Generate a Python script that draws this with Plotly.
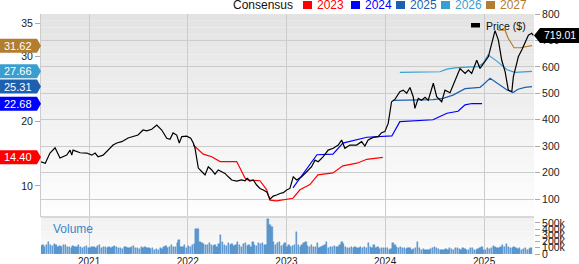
import numpy as np
import pandas as pd
import plotly.graph_objects as go

# ---------------- data (dates as fractional years) ----------------
price_year = [2020.514, 2020.557, 2020.605, 2020.656, 2020.706, 2020.774, 2020.808, 2020.825, 2020.838, 2020.909,
              2020.977, 2021.027, 2021.061, 2021.091, 2021.142, 2021.192, 2021.243, 2021.281, 2021.331, 2021.395,
              2021.446, 2021.496, 2021.547, 2021.584, 2021.635, 2021.686, 2021.736, 2021.787, 2021.820, 2021.851,
              2021.888, 2021.914, 2021.939, 2021.989, 2022.030, 2022.056, 2022.073, 2022.090, 2022.107, 2022.141,
              2022.175, 2022.208, 2022.243, 2022.276, 2022.309, 2022.344, 2022.377, 2022.411, 2022.445, 2022.496,
              2022.546, 2022.580, 2022.603, 2022.630, 2022.664, 2022.698, 2022.732, 2022.765, 2022.800, 2022.833,
              2022.866, 2022.901, 2022.934, 2022.968, 2023.002, 2023.035, 2023.069, 2023.103, 2023.154, 2023.205,
              2023.255, 2023.289, 2023.322, 2023.373, 2023.423, 2023.474, 2023.525, 2023.559, 2023.592, 2023.643,
              2023.711, 2023.762, 2023.795, 2023.828, 2023.879, 2023.930, 2023.964, 2023.997, 2024.031, 2024.065,
              2024.099, 2024.149, 2024.183, 2024.218, 2024.251, 2024.284, 2024.301, 2024.335, 2024.369, 2024.403,
              2024.436, 2024.487, 2024.521, 2024.572, 2024.605, 2024.656, 2024.706, 2024.757, 2024.808, 2024.841,
              2024.875, 2024.926, 2024.959, 2025.010, 2025.043, 2025.078, 2025.111, 2025.145, 2025.179, 2025.213,
              2025.230, 2025.246, 2025.281, 2025.297, 2025.331, 2025.347, 2025.382, 2025.415, 2025.449, 2025.483,
              2025.499]
price = [241, 235, 274, 294, 255, 266, 285, 266, 285, 275,
         274, 266, 274, 260, 266, 285, 304, 312, 317, 331,
         336, 342, 361, 358, 364, 380, 361, 330, 326, 350,
         342, 312, 336, 338, 330, 312, 293, 250, 217, 204,
         191, 222, 210, 194, 210, 203, 197, 184, 172, 168,
         172, 169, 178, 168, 172, 153, 140, 134, 127, 99,
         111, 115, 121, 124, 134, 140, 184, 172, 184, 203,
         222, 247, 241, 260, 285, 292, 304, 323, 292, 304,
         304, 317, 300, 323, 333, 336, 351, 355, 386, 468,
         477, 506, 512, 500, 522, 487, 443, 481, 474, 485,
         474, 538, 487, 468, 512, 502, 550, 594, 575, 588,
         575, 625, 594, 619, 638, 689, 737, 701, 625, 582,
         544, 512, 506, 563, 613, 638, 664, 689, 720, 727,
         719.01]

eps2023_year = [2022.056, 2022.157, 2022.243, 2022.327, 2022.496, 2022.580, 2022.613, 2022.732, 2022.800, 2022.833,
                2022.901, 2023.066, 2023.137, 2023.238, 2023.319, 2023.471, 2023.572, 2023.714, 2023.815, 2023.977]
eps2023 = [16.3, 14.9, 14.5, 13.75, 13.75, 11.2, 10.9, 10.8, 9.4, 7.8,
           7.7, 8.1, 9.4, 10.2, 11.7, 12.0, 13.1, 13.5, 14.1, 14.40]

eps2024_year = [2023.066, 2023.309, 2023.471, 2023.572, 2023.815, 2024.068, 2024.149, 2024.484, 2024.554, 2024.625,
                2024.737, 2024.808, 2024.878, 2024.980]
eps2024 = [9.7, 14.8, 14.9, 16.6, 17.5, 17.7, 19.9, 20.2, 20.7, 21.2, 21.5, 22.5, 22.7, 22.68]

eps2025_year = [2024.078, 2024.352, 2024.484, 2024.585, 2024.686, 2024.808, 2024.959, 2024.990, 2025.061, 2025.233,
                2025.294, 2025.344, 2025.415, 2025.486]
eps2025 = [23.2, 23.2, 23.3, 23.5, 24.0, 25.0, 25.2, 25.6, 26.6, 24.8, 24.4, 24.9, 25.2, 25.31]

eps2026_year = [2024.149, 2024.352, 2024.554, 2024.625, 2024.706, 2024.828, 2024.939, 2024.990, 2025.041, 2025.132,
                2025.233, 2025.314, 2025.395, 2025.486]
eps2026 = [27.5, 27.5, 27.6, 28.0, 28.2, 28.3, 28.4, 28.9, 30.2, 29.2, 27.9, 27.5, 27.6, 27.66]

eps2027_year = [2025.142, 2025.213, 2025.243, 2025.304, 2025.365, 2025.435, 2025.486]
eps2027 = [34.0, 34.0, 32.8, 31.3, 31.3, 31.5, 31.62]

# weekly volume (thousands of shares), starting July 2020
vol_start = "2020-07-07"
vol_2020 = [130, 150, 120, 140, 190, 150, 130, 160, 140, 120, 130, 110, 150, 140, 120, 110, 100, 130, 120, 110,
            140, 120, 100, 110, 130, 90]
vol_2021 = [100, 110, 120, 90, 130, 140, 100, 110, 120, 90, 110, 100, 120, 130, 110, 100, 90, 80, 110, 120,
            100, 90, 110, 130, 100, 90, 80, 110, 100, 120, 90, 100, 80, 90, 70, 80, 70, 90, 80, 110,
            130, 100, 120, 150, 110, 120, 170, 230, 110, 120, 150, 100]
vol_2022 = [130, 120, 140, 160, 400, 410, 190, 170, 160, 150, 140, 180, 150, 130, 140, 120, 160, 300, 190, 150,
            130, 170, 140, 160, 130, 150, 200, 140, 120, 160, 180, 130, 140, 120, 190, 150, 130, 170, 160, 180,
            140, 150, 560, 470, 430, 190, 150, 180, 200, 130, 150, 170]
vol_2023 = [120, 140, 110, 130, 150, 350, 140, 120, 140, 170, 200, 130, 120, 150, 110, 120, 185, 90, 110, 130,
            140, 190, 100, 120, 110, 130, 120, 110, 140, 190, 160, 120, 100, 90, 110, 100, 120, 90, 100, 110,
            100, 120, 90, 170, 110, 100, 150, 100, 110, 80, 90, 100]
vol_2024 = [90, 100, 70, 80, 175, 140, 110, 100, 120, 90, 100, 80, 90, 100, 70, 80, 90, 190, 90, 70,
            80, 70, 60, 70, 80, 90, 110, 100, 80, 70, 60, 70, 80, 70, 90, 80, 70, 100, 90, 80,
            70, 90, 80, 70, 60, 90, 100, 70, 60, 80, 90, 110]
vol_2025 = [60, 70, 90, 80, 100, 130, 110, 100, 90, 120, 150, 110, 160, 120, 100, 90, 110, 100, 80, 90,
            70, 80, 90, 70, 80, 90]
volume_k = vol_2020 + vol_2021 + vol_2022 + vol_2023 + vol_2024 + vol_2025

year_ticks = [2021, 2022, 2023, 2024, 2025]
eps_ticks = [10, 20, 30, 35]
price_ticks = [100, 200, 300, 400, 500, 600, 700, 800]
vol_ticks_k = [0, 100, 200, 300, 400, 500]

# ---------------- helpers ----------------
def fy(f):
    y = int(np.floor(f))
    a = pd.Timestamp(year=y, month=1, day=1)
    b = pd.Timestamp(year=y + 1, month=1, day=1)
    return a + (b - a) * (f - y)

def dates(lst):
    return [fy(v) for v in lst]

W, H = 579, 264
ML, MR, MT, MB = 41, 45, 14, 10
PW, PH = W - ML - MR, H - MT - MB

def px(x):
    return (x - ML) / PW

def py(y):
    return (H - MB - y) / PH

FONT = "Arial, Liberation Sans, sans-serif"
C23, C24, C25, C26, C27 = "#ff0000", "#0000ff", "#1f5fb0", "#3a9fd0", "#b27d2e"
GRID = "#cccccc"
MAIN_DOM = [0.154, 1.0]
VOL_DOM = [0.0, 0.150]

fig = go.Figure()

vol_dates = pd.date_range(vol_start, periods=len(volume_k), freq="7D")
fig.add_trace(go.Bar(x=vol_dates, y=[v * 1000 for v in volume_k], xaxis="x", yaxis="y3",
                     marker=dict(color="#5b9bd5", line=dict(color="#3f7fbf", width=0.4)),
                     width=5 * 24 * 3600 * 1000, showlegend=False, hoverinfo="skip"))

for yrs, vals, col in [(eps2023_year, eps2023, C23), (eps2024_year, eps2024, C24),
                       (eps2025_year, eps2025, C25), (eps2026_year, eps2026, C26),
                       (eps2027_year, eps2027, C27)]:
    fig.add_trace(go.Scatter(x=dates(yrs), y=vals, mode="lines", xaxis="x", yaxis="y",
                             line=dict(color=col, width=1.2), showlegend=False, hoverinfo="skip"))

fig.add_trace(go.Scatter(x=dates(price_year), y=price, mode="lines", xaxis="x", yaxis="y2",
                         line=dict(color="#000000", width=1.2), showlegend=False, hoverinfo="skip"))

shapes = []
# gradient background, main panel
n = 30
for i in range(n):
    y0 = MAIN_DOM[0] + (MAIN_DOM[1] - MAIN_DOM[0]) * i / n
    y1 = MAIN_DOM[0] + (MAIN_DOM[1] - MAIN_DOM[0]) * (i + 1) / n
    t = (i + 0.5) / n
    c = int(round(254 - (254 - 227) * t))
    shapes.append(dict(type="rect", xref="paper", yref="paper", x0=0, x1=1, y0=y0, y1=y1,
                       fillcolor=f"rgb({c},{c},{c})", line=dict(width=0), layer="below"))
# volume panel background
for i in range(8):
    y0 = VOL_DOM[0] + (VOL_DOM[1] - VOL_DOM[0]) * i / 8
    y1 = VOL_DOM[0] + (VOL_DOM[1] - VOL_DOM[0]) * (i + 1) / 8
    t = (i + 0.5) / 8
    c = int(round(251 - (251 - 240) * t))
    shapes.append(dict(type="rect", xref="paper", yref="paper", x0=0, x1=1, y0=y0, y1=y1,
                       fillcolor=f"rgb({c},{c},{c})", line=dict(width=0), layer="below"))
# separator band
shapes.append(dict(type="rect", xref="paper", yref="paper", x0=0, x1=1, y0=VOL_DOM[1], y1=MAIN_DOM[0] + 0.004,
                   fillcolor="#d8d8d8", line=dict(width=0), layer="above"))

annotations = []
# left value tags
for val, col in [(eps2027[-1], C27), (eps2026[-1], C26), (eps2025[-1], C25), (eps2024[-1], C24), (eps2023[-1], C23)]:
    shapes.append(dict(type="path", xref="paper", yref="y", xsizemode="pixel", ysizemode="pixel",
                       xanchor=0, yanchor=val,
                       path="M -41,-7 L -4,-7 L 0,0 L -4,7 L -41,7 Z",
                       fillcolor=col, line=dict(width=0), layer="above"))
    annotations.append(dict(x=0, xref="paper", y=val, yref="y", text=f"{val:.2f}", showarrow=False,
                            xanchor="center", xshift=-23, yanchor="middle",
                            font=dict(family=FONT, size=11, color="white")))
# right price tag
last = price[-1]
shapes.append(dict(type="path", xref="paper", yref="y2", xsizemode="pixel", ysizemode="pixel",
                   xanchor=1, yanchor=last,
                   path="M 0,0 L 6,-7.5 L 46,-7.5 L 46,7.5 L 6,7.5 Z",
                   fillcolor="#000000", line=dict(width=0), layer="above"))
annotations.append(dict(x=1, xref="paper", y=last, yref="y2", text=f"{last:.2f}", showarrow=False,
                        xanchor="center", xshift=26, yanchor="middle",
                        font=dict(family=FONT, size=10.5, color="white")))

# top consensus legend
annotations.append(dict(x=px(231), xref="paper", y=py(5), yref="paper", text="Consensus", showarrow=False,
                        xanchor="left", yanchor="middle", font=dict(family=FONT, size=12, color="#111")))
for sx, lab, col in [(303, "2023", C23), (351, "2024", C24), (396, "2025", C25),
                     (441, "2026", C26), (486, "2027", C27)]:
    shapes.append(dict(type="rect", xref="paper", yref="paper", x0=px(sx), x1=px(sx + 9),
                       y0=py(9), y1=py(1), fillcolor=col, line=dict(width=0)))
    annotations.append(dict(x=px(sx + 12), xref="paper", y=py(5), yref="paper", text=lab, showarrow=False,
                            xanchor="left", yanchor="middle", font=dict(family=FONT, size=12, color=col)))

# price legend
shapes.append(dict(type="rect", xref="paper", yref="paper", x0=px(471), x1=px(480), y0=py(27.5), y1=py(23),
                   fillcolor="#000000", line=dict(width=0)))
annotations.append(dict(x=px(484), xref="paper", y=py(25.5), yref="paper", text="Price ($)", showarrow=False,
                        xanchor="left", yanchor="middle", font=dict(family=FONT, size=10.5, color="#111")))
# volume label
annotations.append(dict(x=px(51), xref="paper", y=py(228.5), yref="paper", text="Volume", showarrow=False,
                        xanchor="left", yanchor="middle", font=dict(family=FONT, size=12, color="#3a87c8")))

fig.update_layout(
    width=W, height=H, margin=dict(l=ML, r=MR, t=MT, b=MB, autoexpand=False),
    paper_bgcolor="white", plot_bgcolor="rgba(0,0,0,0)",
    font=dict(family=FONT, size=10, color="#222"),
    showlegend=False, bargap=0,
    shapes=shapes, annotations=annotations,
    xaxis=dict(type="date", anchor="y3", domain=[0, 1], automargin=False,
               range=[fy(2020.514), fy(2025.506)],
               tickvals=[fy(y) for y in year_ticks], ticktext=[str(y) for y in year_ticks],
               showgrid=True, gridcolor=GRID, gridwidth=1, ticks="", showline=False, zeroline=False,
               tickfont=dict(family=FONT, size=10, color="#222")),
    yaxis=dict(domain=MAIN_DOM, anchor="x", side="left", range=[5.2, 36.5], automargin=False,
               tickvals=eps_ticks, ticktext=[str(v) for v in eps_ticks],
               showgrid=False, zeroline=False, ticks="outside", ticklen=5, tickcolor="#aaaaaa",
               showline=True, linecolor=GRID, linewidth=1,
               tickfont=dict(family=FONT, size=10.5, color="#222")),
    yaxis2=dict(overlaying="y", side="right", anchor="x", range=[31.8, 800], automargin=False,
                tickvals=price_ticks, ticktext=[str(v) for v in price_ticks],
                showgrid=True, gridcolor=GRID, gridwidth=1, zeroline=False,
                ticks="outside", ticklen=5, tickcolor="#aaaaaa",
                tickfont=dict(family=FONT, size=10.5, color="#222")),
    yaxis3=dict(domain=VOL_DOM, anchor="x", side="right", range=[0, 580000], automargin=False,
                tickvals=[v * 1000 for v in vol_ticks_k],
                ticktext=["0" if v == 0 else f"{v}k" for v in vol_ticks_k],
                showgrid=False, zeroline=False, ticks="outside", ticklen=5, tickcolor="#aaaaaa",
                tickfont=dict(family=FONT, size=10.5, color="#222")),
)

fig.write_html("out.html")
